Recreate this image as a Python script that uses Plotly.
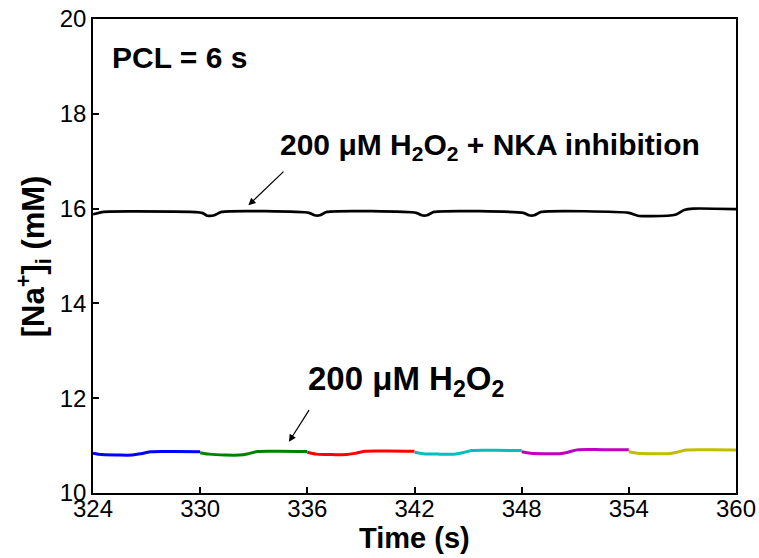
import plotly.graph_objects as go

# Na+ concentration traces, one colour per 6 s beat (200 uM H2O2)
beat_colors = ["#0000ff", "#008000", "#ff0000", "#00bfbf", "#bf00bf", "#bfbf00"]

beat_times = [
    [324.0, 324.5, 325.4, 326.2, 326.7, 327.2, 328.5, 330.0],
    [330.0, 330.5, 331.4, 332.2, 332.7, 333.2, 334.5, 336.0],
    [336.0, 336.5, 337.4, 338.2, 338.7, 339.2, 340.5, 342.0],
    [342.0, 342.5, 343.4, 344.2, 344.7, 345.2, 346.5, 348.0],
    [348.0, 348.5, 349.4, 350.1, 350.6, 351.1, 352.5, 354.0],
    [354.0, 354.5, 355.4, 356.2, 356.7, 357.2, 358.5, 360.0],
]
beat_values = [
    [10.84, 10.81, 10.80, 10.80, 10.83, 10.87, 10.875, 10.87],
    [10.85, 10.82, 10.80, 10.80, 10.83, 10.875, 10.88, 10.875],
    [10.86, 10.82, 10.81, 10.81, 10.84, 10.88, 10.885, 10.88],
    [10.86, 10.83, 10.82, 10.82, 10.85, 10.895, 10.90, 10.895],
    [10.87, 10.84, 10.83, 10.83, 10.86, 10.91, 10.915, 10.91],
    [10.87, 10.84, 10.83, 10.83, 10.86, 10.905, 10.91, 10.905],
]

# 200 uM H2O2 + NKA inhibition
nka_times = [324.0, 324.6, 326.0, 330.1, 330.4, 330.8, 331.2, 336.1, 336.4, 336.7,
             337.1, 342.1, 342.4, 342.7, 343.1, 348.1, 348.4, 348.7, 349.1, 354.0,
             354.5, 355.3, 356.6, 357.1, 357.6, 360.0]
nka_values = [15.88, 15.93, 15.94, 15.91, 15.85, 15.86, 15.93, 15.91, 15.86, 15.86,
              15.93, 15.91, 15.86, 15.86, 15.93, 15.91, 15.86, 15.86, 15.93, 15.91,
              15.85, 15.84, 15.87, 15.97, 16.0, 15.99]

x_ticks = [324, 330, 336, 342, 348, 354, 360]
y_ticks = [10, 12, 14, 16, 18, 20]

fig = go.Figure()
for t, v, c in zip(beat_times, beat_values, beat_colors):
    fig.add_trace(go.Scatter(x=t, y=v, mode="lines",
                             line=dict(color=c, width=3, shape="spline", smoothing=0.8),
                             showlegend=False, hoverinfo="skip"))
fig.add_trace(go.Scatter(x=nka_times, y=nka_values, mode="lines",
                         line=dict(color="black", width=2.7, shape="spline", smoothing=0.6),
                         showlegend=False, hoverinfo="skip"))

font_family = "Liberation Sans, Arial, sans-serif"
axis_common = dict(showgrid=False, zeroline=False, showline=True, linecolor="black",
                   linewidth=1.5, mirror=True, ticks="inside", ticklen=6, tickwidth=1.5,
                   tickcolor="black", automargin=False,
                   tickfont=dict(family=font_family, size=24, color="black"))

fig.update_xaxes(range=[324, 360], tickvals=x_ticks, ticktext=[str(v) for v in x_ticks],
                 ticklabelstandoff=-7, **axis_common)
fig.update_yaxes(range=[10, 20], tickvals=y_ticks, ticktext=[str(v) for v in y_ticks],
                 **axis_common)

# axis titles
fig.add_annotation(x=0.5, y=-0.095, xref="paper", yref="paper", xanchor="center",
                   yanchor="middle", text="<b>Time (s)</b>", showarrow=False,
                   font=dict(family=font_family, size=29, color="black"))
fig.add_annotation(x=-0.093, y=0.5, xref="paper", yref="paper", xanchor="center",
                   yanchor="middle", textangle=-90,
                   text="<b>[Na<sup>+</sup>]<sub>i</sub> (mM)</b>", showarrow=False,
                   font=dict(family=font_family, size=31, color="black"))

fig.add_annotation(x=0.027, y=0.918, xref="paper", yref="paper", xanchor="left", yanchor="middle",
                   text="<b>PCL = 6 s</b>", showarrow=False,
                   font=dict(family=font_family, size=30, color="black"))
fig.add_annotation(x=332.7, y=16.07, ax=334.75, ay=16.81, axref="x", ayref="y",
                   text="", showarrow=True, arrowhead=2, arrowsize=1.2, arrowwidth=1.2,
                   arrowcolor="black")
fig.add_annotation(x=334.35, y=17.32, xanchor="left", yanchor="middle",
                   text="<b>200 \u03bcM H<sub>2</sub>O<sub>2</sub> + NKA inhibition</b>",
                   showarrow=False, font=dict(family=font_family, size=30, color="black"))
fig.add_annotation(x=334.97, y=11.08, ax=336.15, ay=11.78, axref="x", ayref="y",
                   text="", showarrow=True, arrowhead=2, arrowsize=1.2, arrowwidth=1.2,
                   arrowcolor="black")
fig.add_annotation(x=335.9, y=12.36, xanchor="left", yanchor="middle",
                   text="<b>200 \u03bcM H<sub>2</sub>O<sub>2</sub></b>",
                   showarrow=False, font=dict(family=font_family, size=33, color="black"))

fig.update_layout(width=759, height=558, margin=dict(l=93, r=23, t=19, b=65),
                  paper_bgcolor="white", plot_bgcolor="white")

fig.write_html("out.html")
